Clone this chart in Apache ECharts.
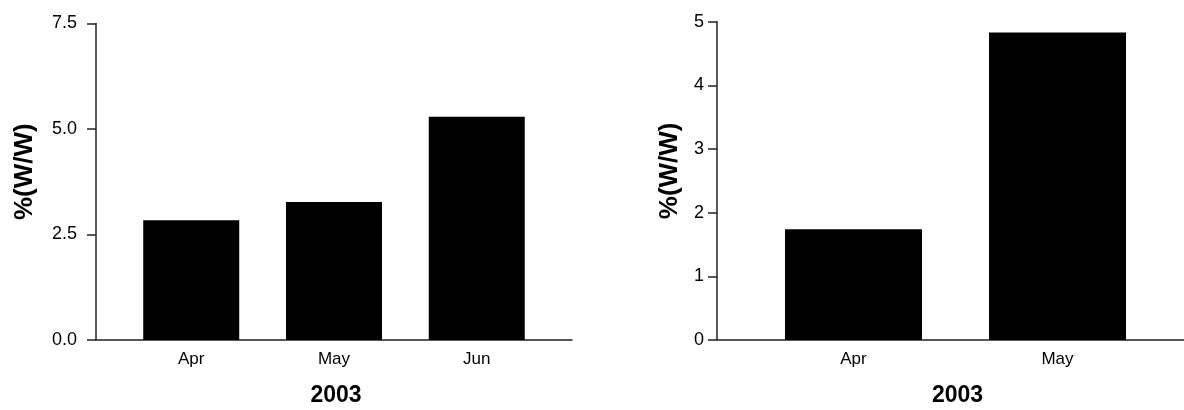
<!DOCTYPE html>
<html>
<head>
<meta charset="utf-8">
<script src="https://cdn.jsdelivr.net/npm/echarts@6/dist/echarts.min.js"></script>
<style>
html,body{margin:0;padding:0;background:#fff;}
#chart{width:1184px;height:410px;}
</style>
</head>
<body>
<div id="chart"></div>
<script>
// ---- data ----
const leftCategories = ['Apr', 'May', 'Jun'];
const leftValues = [2.84, 3.27, 5.29];
const rightCategories = ['Apr', 'May'];
const rightValues = [1.74, 4.83];
const yAxisTitle = '%(W/W)';
const xAxisTitle = '2003';

const FONT = '"Liberation Sans", Arial, Helvetica, sans-serif';
const AXIS_COLOR = '#222';

function toPoints(vals){ return vals.map((v,i)=>[i,v]); }

const chart = echarts.init(document.getElementById('chart'), null, {renderer:'canvas'});

function xAxisCfg(gridIndex, cats, min, max, namePad){
  return {
    type:'value', gridIndex, min, max,
    name: xAxisTitle, nameLocation:'middle', nameGap:44,
    nameTextStyle:{fontFamily:FONT, fontSize:23, fontWeight:'bold', color:'#000', padding:namePad},
    axisLine:{show:true, onZero:false, lineStyle:{color:AXIS_COLOR, width:1.5}},
    axisTick:{show:false},
    splitLine:{show:false},
    axisLabel:{
      customValues: cats.map((c,i)=>i),
      formatter: v => cats[Math.round(v)] || '',
      fontFamily:FONT, fontSize:17, color:'#000', margin:11
    }
  };
}
function yAxisCfg(gridIndex, max, interval, decimals, labelMargin, nameGap){
  return {
    type:'value', gridIndex, min:0, max, interval,
    name: yAxisTitle, nameLocation:'middle', nameRotate:90, nameGap,
    nameTextStyle:{fontFamily:FONT, fontSize:26, fontWeight:'bold', color:'#000', padding:[0,0,0,20]},
    axisLine:{show:true, onZero:false, lineStyle:{color:AXIS_COLOR, width:1.5}},
    axisTick:{show:true, length:9, lineStyle:{color:AXIS_COLOR, width:1.5}},
    splitLine:{show:false},
    axisLabel:{
      formatter: v => v.toFixed(decimals),
      fontFamily:FONT, fontSize:18, color:'#000', margin:labelMargin
    }
  };
}

chart.setOption({
  animation:false,
  backgroundColor:'#fff',
  grid:[
    {left:96, right:612, top:23.5, bottom:70, outerBoundsMode:'none', containLabel:false},
    {left:717, right:0, top:21.7, bottom:70, outerBoundsMode:'none', containLabel:false}
  ],
  xAxis:[
    xAxisCfg(0, leftCategories, -0.667, 2.667, [0,0,0,4]),
    xAxisCfg(1, rightCategories, -0.669, 1.62, [0,0,0,14])
  ],
  yAxis:[
    yAxisCfg(0, 7.5, 2.5, 1, 19, 58),
    yAxisCfg(1, 5, 1, 0, 13, 34)
  ],
  series:[
    {type:'bar', xAxisIndex:0, yAxisIndex:0, data:toPoints(leftValues), barWidth:96,
     itemStyle:{color:'#000'}},
    {type:'bar', xAxisIndex:1, yAxisIndex:1, data:toPoints(rightValues), barWidth:137,
     itemStyle:{color:'#000'}}
  ]
});
</script>
</body>
</html>
